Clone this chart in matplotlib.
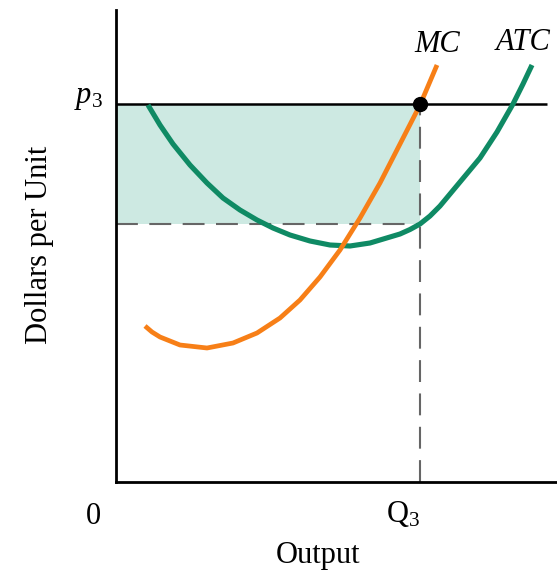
import matplotlib
matplotlib.use("Agg")
import matplotlib.pyplot as plt

plt.rcParams['font.family'] = ['Liberation Serif', 'DejaVu Serif']
plt.rcParams['mathtext.fontset'] = 'custom'
plt.rcParams['mathtext.rm'] = 'Liberation Serif'
plt.rcParams['mathtext.it'] = 'Liberation Serif:italic'

# Data (arbitrary units)
atc_x = [32, 44, 57, 74, 91, 107, 124, 141, 157, 174, 194, 214, 234, 254,
         274, 284, 294, 304, 314, 324, 344, 364, 381, 397, 407, 416]
atc_y = [377, 357, 338, 317, 299, 284, 272, 262, 254, 247, 241, 237, 236, 239,
         245, 248, 252.5, 258, 266, 276, 300, 324, 350, 378, 398, 417]
mc_x = [29, 36, 44, 64, 91, 117, 141, 164, 184, 204, 224, 244, 264, 284, 304, 321]
mc_y = [156, 150, 145, 137, 134, 139, 149, 164, 182, 205, 232, 264, 299, 338, 377, 417]
price_p3 = 378
q3 = 304
atc_at_q3 = 258
price_line_end = 431
x_max = 441
y_max = 472

W, H = 557, 580
fig = plt.figure(figsize=(W / 100, H / 100), dpi=100)
ax = fig.add_axes([116 / W, (H - 482) / H, (W - 116) / W, (482 - 10) / H])
ax.set_xlim(0, x_max)
ax.set_ylim(0, y_max)

teal = '#0f8a64'
orange = '#f77f17'
fill_c = '#cde9e2'
dash_c = '#666666'

ax.fill_between([0, q3], atc_at_q3, price_p3, color=fill_c, lw=0, zorder=1)
ax.plot([0, q3], [atc_at_q3, atc_at_q3], color=dash_c, lw=1.5, dashes=[10.5, 5.5], zorder=2)
ax.plot([q3, q3], [0, price_p3], color=dash_c, lw=1.5, dashes=[10.5, 5.5], zorder=2)
ax.plot([0, price_line_end], [price_p3, price_p3], color='black', lw=1.8, zorder=3, solid_capstyle='butt')
ax.plot(atc_x, atc_y, color=teal, lw=3.7, zorder=4, solid_capstyle='butt', solid_joinstyle='round')
ax.plot(mc_x, mc_y, color=orange, lw=3.4, zorder=5, solid_capstyle='butt', solid_joinstyle='round')
ax.plot([q3], [price_p3], 'o', color='black', ms=10, zorder=6)

for s in ['top', 'right']:
    ax.spines[s].set_visible(False)
for s in ['left', 'bottom']:
    ax.spines[s].set_linewidth(2.0)
ax.set_xticks([])
ax.set_yticks([])

def ft(x, y, s, **kw):
    fig.text(x / W, 1 - y / H, s, ha='center', va='center', **kw)

fs = 22
ft(437, 45, 'MC', fontsize=fs, style='italic')
ft(523, 42, 'ATC', fontsize=fs, style='italic')
ft(88, 98, r'$p_3$', fontsize=fs)
ft(93, 516, '0', fontsize=fs)
ft(403, 514, r'$\mathrm{Q}_3$', fontsize=fs)
ft(318, 556, 'Output', fontsize=fs)
ft(40, 245, 'Dollars per Unit', fontsize=fs, rotation=90)

fig.savefig('out.png', dpi=100)
